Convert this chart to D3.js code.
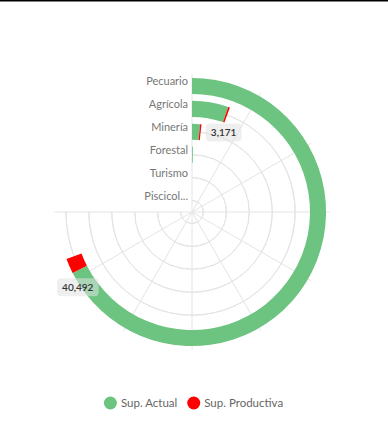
<!DOCTYPE html>
<html>
<head>
<meta charset="utf-8">
<script src="https://cdn.jsdelivr.net/npm/d3@7/dist/d3.min.js"></script>
<style>
html,body{margin:0;padding:0;background:#fff;}
svg{display:block;font-family:Lato,"Open Sans",sans-serif;}
</style>
</head>
<body>
<svg id="chart" width="388" height="429"></svg>
<script>
// ---- data ----
const categories = ["Pecuario", "Agrícola", "Minería", "Forestal", "Turismo", "Piscicol..."];
const supActual = [40492, 3171, 880, 130, 0, 0];
const supProductiva = [1080, 150, 150, 0, 0, 0];
const seriesNames = ["Sup. Actual", "Sup. Productiva"];
const seriesColors = ["#6cc480", "#ff0000"];
const angleTicks = [0, 5000, 10000, 15000, 20000, 25000, 30000, 35000, 40000, 45000];
const labeledCategories = ["Pecuario", "Agrícola"];

// ---- layout ----
const W = 388, H = 429;
const cx = 192, cy = 212, R = 137.5;
const svg = d3.select("#chart");

svg.append("rect").attr("x", 0).attr("y", 0).attr("width", W).attr("height", 1.5).attr("fill", "#000");

const g = svg.append("g").attr("transform", `translate(${cx},${cy})`);

const angle = d3.scaleLinear().domain([0, 45000]).range([0, 1.5 * Math.PI]);
const radius = d3.scaleBand().domain(categories.slice().reverse()).range([0, R])
  .paddingInner(0.3).paddingOuter(0.15);
const bw = radius.bandwidth();
const rc = c => radius(c) + bw / 2;

// grid circles (arcs over the 270° sweep) at band centres
const gridArc = d3.arc();
categories.forEach(c => {
  g.append("path")
    .attr("d", gridArc({innerRadius: rc(c), outerRadius: rc(c), startAngle: 0, endAngle: angle(45000)}))
    .attr("fill", "none").attr("stroke", "#e4e4e4").attr("stroke-width", 1);
});
// radial split lines
angleTicks.forEach(t => {
  const a = angle(t);
  g.append("line")
    .attr("x1", 0).attr("y1", 0)
    .attr("x2", R * Math.sin(a)).attr("y2", -R * Math.cos(a))
    .attr("stroke", "#e4e4e4").attr("stroke-width", 1);
});

// stacked bars
const arc = d3.arc();
categories.forEach((c, i) => {
  const vals = [supActual[i], supProductiva[i]];
  let acc = 0;
  vals.forEach((v, s) => {
    if (v > 0) {
      g.append("path")
        .attr("d", arc({innerRadius: radius(c), outerRadius: radius(c) + bw,
          startAngle: angle(acc), endAngle: angle(acc + v)}))
        .attr("fill", seriesColors[s]);
    }
    acc += v;
  });
});

// radius axis labels
categories.forEach(c => {
  g.append("text")
    .attr("x", -4).attr("y", -rc(c) - 1)
    .attr("text-anchor", "end")
    .attr("font-size", 11)
    .attr("fill", "#777")
    .text(c);
});

// value labels
const fmt = d3.format(",");
labeledCategories.forEach(c => {
  const i = categories.indexOf(c);
  const v = supActual[i];
  const a = angle(v);
  const x = rc(c) * Math.sin(a) - 2;
  const y = -rc(c) * Math.cos(a) + 18;
  const lg = g.append("g").attr("transform", `translate(${x},${y})`);
  const t = lg.append("text").attr("text-anchor", "middle").attr("dy", "0.35em")
    .attr("font-size", 10).attr("font-weight", 600).attr("fill", "#333").text(fmt(v));
  const bb = t.node().getBBox();
  lg.insert("rect", "text")
    .attr("x", bb.x - 5).attr("y", -9).attr("width", bb.width + 10).attr("height", 18)
    .attr("rx", 4).attr("fill", "rgba(225,225,225,0.55)");
});

// legend
const lgY = 403;
const leg = svg.append("g");
let lx = 0;
seriesNames.forEach((n, i) => {
  const it = leg.append("g").attr("transform", `translate(${lx},0)`);
  it.append("circle").attr("cx", 6.5).attr("cy", lgY).attr("r", 6.5).attr("fill", seriesColors[i]);
  const t = it.append("text").attr("x", 17).attr("y", lgY).attr("dy", "0.35em")
    .attr("font-size", 11.5).attr("fill", "#666").text(n);
  lx += 17 + t.node().getComputedTextLength() + 10;
});
const totalW = lx - 10;
leg.attr("transform", `translate(${(W - totalW) / 2 - 0.5},0)`);
</script>
</body>
</html>
